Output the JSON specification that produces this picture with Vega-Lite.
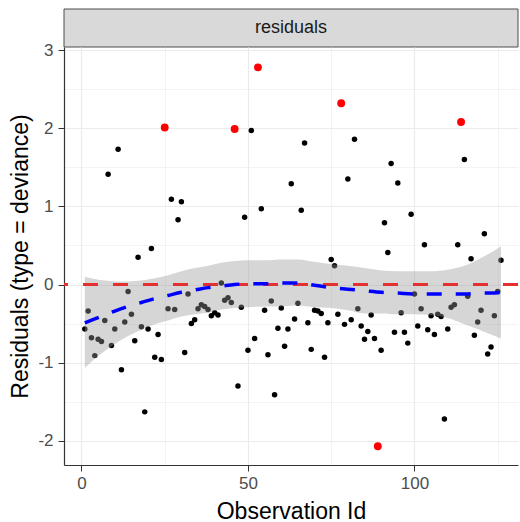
{
  "$schema": "https://vega.github.io/schema/vega-lite/v6.json",
  "padding": {"left": 9, "top": 8, "right": 2, "bottom": 0},
  "spacing": 0,
  "bounds": "flush",
  "config": {
    "font": "Liberation Sans",
    "view": {"stroke": null},
    "axis": {
      "labelColor": "#4D4D4D",
      "labelFontSize": 17,
      "titleFontSize": 23,
      "titleFontWeight": "normal",
      "titleColor": "#000000",
      "tickColor": "#333333",
      "tickSize": 6,
      "domainColor": "#333333",
      "domainWidth": 1.2,
      "gridColor": "#EBEBEB"
    }
  },
  "datasets": {
    "pts": [
      {"id":1,"resid":-0.57,"type":"normal"},{"id":2,"resid":-0.34,"type":"normal"},{"id":3,"resid":-0.68,"type":"normal"},{"id":4,"resid":-0.91,"type":"normal"},{"id":5,"resid":-0.70,"type":"normal"},
      {"id":6,"resid":-0.73,"type":"normal"},{"id":7,"resid":-0.46,"type":"normal"},{"id":8,"resid":1.41,"type":"normal"},{"id":9,"resid":-0.78,"type":"normal"},{"id":10,"resid":-0.57,"type":"normal"},
      {"id":11,"resid":1.73,"type":"normal"},{"id":12,"resid":-1.09,"type":"normal"},{"id":13,"resid":-0.48,"type":"normal"},{"id":14,"resid":-0.09,"type":"normal"},{"id":15,"resid":-0.38,"type":"normal"},
      {"id":16,"resid":-0.72,"type":"normal"},{"id":17,"resid":0.35,"type":"normal"},{"id":18,"resid":-0.54,"type":"normal"},{"id":19,"resid":-1.63,"type":"normal"},{"id":20,"resid":-0.57,"type":"normal"},
      {"id":21,"resid":0.46,"type":"normal"},{"id":22,"resid":-0.93,"type":"normal"},{"id":23,"resid":-0.64,"type":"normal"},{"id":24,"resid":-0.96,"type":"normal"},{"id":25,"resid":2.01,"type":"outlier"},
      {"id":26,"resid":-0.31,"type":"normal"},{"id":27,"resid":1.09,"type":"normal"},{"id":28,"resid":-0.32,"type":"normal"},{"id":29,"resid":0.83,"type":"normal"},{"id":30,"resid":1.06,"type":"normal"},
      {"id":31,"resid":-0.87,"type":"normal"},{"id":32,"resid":-0.12,"type":"normal"},{"id":33,"resid":-0.50,"type":"normal"},{"id":34,"resid":-0.45,"type":"normal"},{"id":35,"resid":-0.31,"type":"normal"},
      {"id":36,"resid":-0.26,"type":"normal"},{"id":37,"resid":-0.28,"type":"normal"},{"id":38,"resid":-0.32,"type":"normal"},{"id":39,"resid":-0.40,"type":"normal"},{"id":40,"resid":-0.36,"type":"normal"},
      {"id":41,"resid":-0.39,"type":"normal"},{"id":42,"resid":0.02,"type":"normal"},{"id":43,"resid":-0.20,"type":"normal"},{"id":44,"resid":-0.17,"type":"normal"},{"id":45,"resid":-0.23,"type":"normal"},
      {"id":46,"resid":1.99,"type":"outlier"},{"id":47,"resid":-1.30,"type":"normal"},{"id":48,"resid":-0.29,"type":"normal"},{"id":49,"resid":0.86,"type":"normal"},{"id":50,"resid":-0.84,"type":"normal"},
      {"id":51,"resid":1.97,"type":"normal"},{"id":52,"resid":-0.69,"type":"normal"},{"id":53,"resid":2.78,"type":"outlier"},{"id":54,"resid":0.97,"type":"normal"},{"id":55,"resid":-0.33,"type":"normal"},
      {"id":56,"resid":-0.90,"type":"normal"},{"id":57,"resid":-0.21,"type":"normal"},{"id":58,"resid":-1.41,"type":"normal"},{"id":59,"resid":-0.56,"type":"normal"},{"id":60,"resid":-0.30,"type":"normal"},
      {"id":61,"resid":-0.79,"type":"normal"},{"id":62,"resid":-0.57,"type":"normal"},{"id":63,"resid":1.29,"type":"normal"},{"id":64,"resid":-0.44,"type":"normal"},{"id":65,"resid":-0.24,"type":"normal"},
      {"id":66,"resid":0.95,"type":"normal"},{"id":67,"resid":1.81,"type":"normal"},{"id":68,"resid":-0.49,"type":"normal"},{"id":69,"resid":-0.83,"type":"normal"},{"id":70,"resid":-0.33,"type":"normal"},
      {"id":71,"resid":-0.34,"type":"normal"},{"id":72,"resid":-0.37,"type":"normal"},{"id":73,"resid":-0.93,"type":"normal"},{"id":74,"resid":-0.49,"type":"normal"},{"id":75,"resid":0.32,"type":"normal"},
      {"id":76,"resid":0.24,"type":"normal"},{"id":77,"resid":-0.38,"type":"normal"},{"id":78,"resid":2.32,"type":"outlier"},{"id":79,"resid":-0.51,"type":"normal"},{"id":80,"resid":1.35,"type":"normal"},
      {"id":81,"resid":-0.45,"type":"normal"},{"id":82,"resid":1.86,"type":"normal"},{"id":83,"resid":-0.31,"type":"normal"},{"id":84,"resid":-0.53,"type":"normal"},{"id":85,"resid":-0.70,"type":"normal"},
      {"id":86,"resid":-0.60,"type":"normal"},{"id":87,"resid":-0.39,"type":"normal"},{"id":88,"resid":-0.69,"type":"normal"},{"id":89,"resid":-2.07,"type":"outlier"},{"id":90,"resid":-0.84,"type":"normal"},
      {"id":91,"resid":0.79,"type":"normal"},{"id":92,"resid":0.41,"type":"normal"},{"id":93,"resid":1.55,"type":"normal"},{"id":94,"resid":-0.61,"type":"normal"},{"id":95,"resid":1.30,"type":"normal"},
      {"id":96,"resid":-0.36,"type":"normal"},{"id":97,"resid":-0.61,"type":"normal"},{"id":98,"resid":-0.75,"type":"normal"},{"id":99,"resid":0.90,"type":"normal"},{"id":100,"resid":-0.12,"type":"normal"},
      {"id":101,"resid":-0.53,"type":"normal"},{"id":102,"resid":-0.31,"type":"normal"},{"id":103,"resid":0.51,"type":"normal"},{"id":104,"resid":-0.58,"type":"normal"},{"id":105,"resid":-0.40,"type":"normal"},
      {"id":106,"resid":-0.64,"type":"normal"},{"id":107,"resid":-0.38,"type":"normal"},{"id":108,"resid":-0.41,"type":"normal"},{"id":109,"resid":-1.72,"type":"normal"},{"id":110,"resid":-0.57,"type":"normal"},
      {"id":111,"resid":-0.29,"type":"normal"},{"id":112,"resid":-0.26,"type":"normal"},{"id":113,"resid":0.51,"type":"normal"},{"id":114,"resid":2.08,"type":"outlier"},{"id":115,"resid":1.60,"type":"normal"},
      {"id":116,"resid":-0.15,"type":"normal"},{"id":117,"resid":0.33,"type":"normal"},{"id":118,"resid":-0.65,"type":"normal"},{"id":119,"resid":-0.48,"type":"normal"},{"id":120,"resid":-0.33,"type":"normal"},
      {"id":121,"resid":0.65,"type":"normal"},{"id":122,"resid":-0.89,"type":"normal"},{"id":123,"resid":-0.80,"type":"normal"},{"id":124,"resid":-0.40,"type":"normal"},{"id":125,"resid":-0.09,"type":"normal"},
      {"id":126,"resid":0.31,"type":"normal"}
    ],
    "smooth": [
      {"x":1,"fit":-0.49,"lo":-1.07,"hi":0.10},{"x":4,"fit":-0.44,"lo":-0.95,"hi":0.07},{"x":7,"fit":-0.39,"lo":-0.85,"hi":0.05},
      {"x":10,"fit":-0.34,"lo":-0.76,"hi":0.04},{"x":14,"fit":-0.28,"lo":-0.66,"hi":0.04},{"x":18,"fit":-0.23,"lo":-0.58,"hi":0.05},
      {"x":22,"fit":-0.18,"lo":-0.51,"hi":0.08},{"x":26,"fit":-0.14,"lo":-0.46,"hi":0.12},{"x":30,"fit":-0.10,"lo":-0.41,"hi":0.17},
      {"x":34,"fit":-0.07,"lo":-0.38,"hi":0.21},{"x":38,"fit":-0.04,"lo":-0.36,"hi":0.24},{"x":42,"fit":-0.02,"lo":-0.32,"hi":0.28},
      {"x":46,"fit":0.00,"lo":-0.30,"hi":0.30},{"x":50,"fit":0.01,"lo":-0.29,"hi":0.31},{"x":55,"fit":0.01,"lo":-0.28,"hi":0.31},
      {"x":60,"fit":0.02,"lo":-0.28,"hi":0.32},{"x":65,"fit":0.02,"lo":-0.27,"hi":0.32},{"x":70,"fit":-0.01,"lo":-0.29,"hi":0.29},
      {"x":75,"fit":-0.04,"lo":-0.30,"hi":0.26},{"x":80,"fit":-0.06,"lo":-0.33,"hi":0.24},{"x":85,"fit":-0.08,"lo":-0.37,"hi":0.21},
      {"x":90,"fit":-0.10,"lo":-0.37,"hi":0.18},{"x":95,"fit":-0.11,"lo":-0.38,"hi":0.17},{"x":100,"fit":-0.12,"lo":-0.38,"hi":0.17},
      {"x":105,"fit":-0.12,"lo":-0.39,"hi":0.17},{"x":110,"fit":-0.12,"lo":-0.43,"hi":0.19},{"x":115,"fit":-0.12,"lo":-0.51,"hi":0.24},
      {"x":120,"fit":-0.11,"lo":-0.59,"hi":0.34},{"x":123,"fit":-0.11,"lo":-0.64,"hi":0.41},{"x":126,"fit":-0.10,"lo":-0.69,"hi":0.49}
    ]
  },
  "vconcat": [
    {
      "width": 454,
      "height": 38,
      "data": {"values": [{"panel": "residuals"}]},
      "layer": [
        {"mark": {"type": "rect", "fill": "#D9D9D9", "stroke": "#4D4D4D", "strokeWidth": 1}, "encoding": {}},
        {"mark": {"type": "text", "fontSize": 18, "color": "#1A1A1A"}, "encoding": {"text": {"field": "panel"}}}
      ]
    },
    {
      "width": 454,
      "height": 418,
      "layer": [
        {
          "data": {"name": "pts"},
          "mark": {"type": "point", "filled": true, "opacity": 1},
          "encoding": {
            "x": {
              "field": "id", "type": "quantitative", "title": "Observation Id",
              "scale": {"domain": [-5.25, 131.1], "nice": false, "zero": false},
              "axis": {
                "values": [0, 25, 50, 75, 100, 125],
                "labelExpr": "datum.value % 50 === 0 ? '' + datum.value : ''",
                "tickOpacity": {"condition": {"test": "datum.value % 50 !== 0", "value": 0}, "value": 1},
                "gridWidth": {"condition": {"test": "datum.value % 50 !== 0", "value": 0.6}, "value": 1.2},
                "labelPadding": 4,
                "titlePadding": 9
              }
            },
            "y": {
              "field": "resid", "type": "quantitative", "title": "Residuals (type = deviance)",
              "scale": {"domain": [-2.31, 3.04], "nice": false, "zero": false},
              "axis": {
                "values": [-2, -1.5, -1, -0.5, 0, 0.5, 1, 1.5, 2, 2.5, 3],
                "labelExpr": "datum.value % 1 === 0 ? '' + datum.value : ''",
                "tickOpacity": {"condition": {"test": "datum.value % 1 !== 0", "value": 0}, "value": 1},
                "gridWidth": {"condition": {"test": "datum.value % 1 !== 0", "value": 0.6}, "value": 1.2},
                "labelPadding": 5,
                "titlePadding": 5
              }
            },
            "color": {"field": "type", "type": "nominal", "scale": {"domain": ["normal", "outlier"], "range": ["#000000", "#FF0000"]}, "legend": null},
            "size": {"field": "type", "type": "nominal", "scale": {"domain": ["normal", "outlier"], "range": [30, 62]}, "legend": null}
          }
        },
        {
          "data": {"name": "smooth"},
          "mark": {"type": "area", "color": "#999999", "opacity": 0.4, "interpolate": "monotone"},
          "encoding": {
            "x": {"field": "x", "type": "quantitative", "title": "Observation Id"},
            "y": {"field": "lo", "type": "quantitative", "title": "Residuals (type = deviance)"},
            "y2": {"field": "hi"}
          }
        },
        {
          "data": {"values": [{"ref": 0}]},
          "mark": {"type": "rule", "color": "#E33030", "strokeWidth": 3, "strokeDash": [15, 15]},
          "encoding": {
            "y": {"field": "ref", "type": "quantitative", "title": "Residuals (type = deviance)"}
          }
        },
        {
          "data": {"name": "smooth"},
          "mark": {"type": "line", "color": "#0000FF", "strokeWidth": 3.5, "strokeDash": [15, 14], "interpolate": "monotone"},
          "encoding": {
            "x": {"field": "x", "type": "quantitative", "title": "Observation Id"},
            "y": {"field": "fit", "type": "quantitative", "title": "Residuals (type = deviance)"}
          }
        }
      ]
    }
  ]
}
